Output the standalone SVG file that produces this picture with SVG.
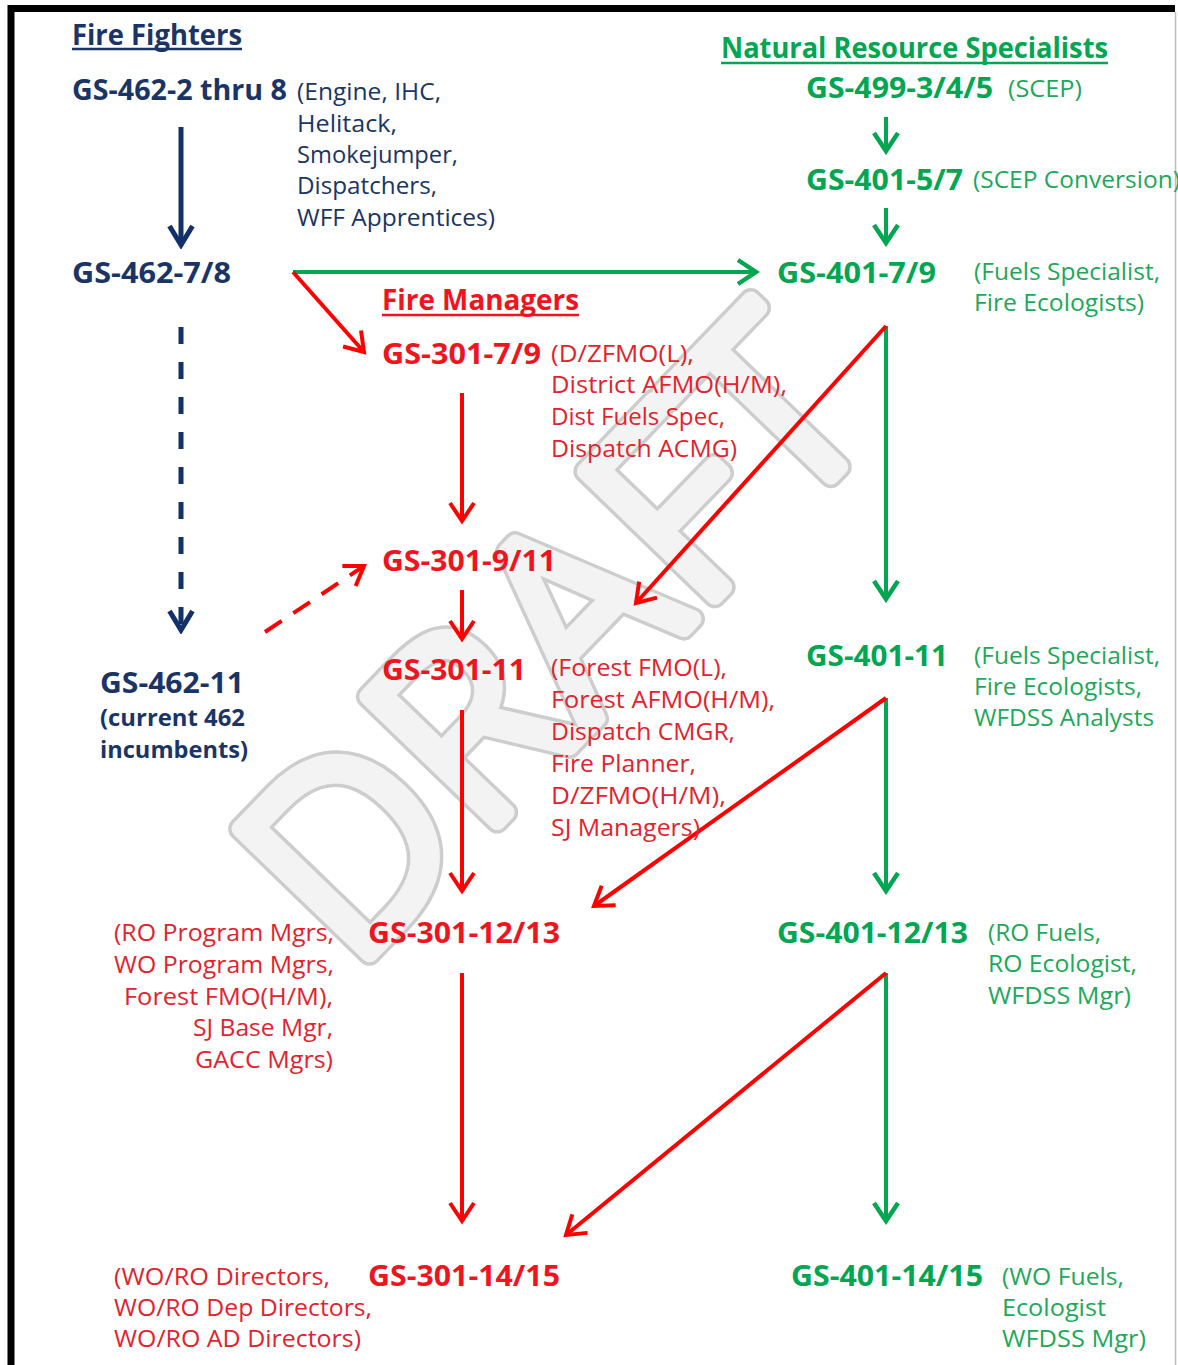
<svg xmlns="http://www.w3.org/2000/svg" width="1178" height="1365" viewBox="0 0 1178 1365">
<style>
text{font-family:"Open Sans","Noto Sans","Liberation Sans",sans-serif}
.b{font-weight:bold;font-size:29px}
.r{font-size:23px}
.navy{fill:#1A3565}
.redb{fill:#F0141E}
.redr{fill:#E2232E}
.grnb{fill:#00A651}
.grnr{fill:#1DA85A}
.wm1{font-size:252px;font-weight:300;letter-spacing:6px;fill:none;stroke:#cdcdcd;stroke-width:24;stroke-linejoin:round}
.wm2{font-size:252px;font-weight:300;letter-spacing:6px;fill:#f3f3f3;stroke:#f3f3f3;stroke-width:17;stroke-linejoin:round}
.ar{stroke:#FF0000;stroke-width:4;fill:none}
.ag{stroke:#00A650;stroke-width:4;fill:none}
.an{stroke:#12306A;stroke-width:5;fill:none}
</style>
<defs>
<marker id="mr" markerUnits="userSpaceOnUse" viewBox="-22 -16 26 32" refX="0" refY="0" markerWidth="26" markerHeight="32" orient="auto">
<path d="M-18,-12 L0,0 L-18,12" fill="none" stroke="#FF0000" stroke-width="4"/>
</marker>
<marker id="mg" markerUnits="userSpaceOnUse" viewBox="-22 -16 26 32" refX="0" refY="0" markerWidth="26" markerHeight="32" orient="auto">
<path d="M-18,-12 L0,0 L-18,12" fill="none" stroke="#00A650" stroke-width="4.5"/>
</marker>
<marker id="mn" markerUnits="userSpaceOnUse" viewBox="-24 -16 28 32" refX="0" refY="0" markerWidth="28" markerHeight="32" orient="auto">
<path d="M-19,-11.5 L0,0 L-19,11.5" fill="none" stroke="#12306A" stroke-width="5"/>
</marker>
</defs>
<rect x="0" y="0" width="1178" height="1365" fill="#ffffff"/>

<g id="watermark">
<text class="wm1" transform="translate(352,972) rotate(-46)">DRAFT</text>
<text class="wm2" transform="translate(352,972) rotate(-46)">DRAFT</text>
</g>

<g id="frame">
<path d="M11,1365 V8.5 H1175" fill="none" stroke="#000" stroke-width="7"/>
<line x1="1175.5" y1="12" x2="1175.5" y2="1365" stroke="#bdbdbd" stroke-width="1.5"/>
</g>

<g id="connectors">
<line class="an" x1="181" y1="127" x2="181" y2="245" marker-end="url(#mn)"/>
<line class="an" x1="181" y1="327" x2="181" y2="630" stroke-dasharray="17 18" marker-end="url(#mn)"/>
<line class="ag" x1="293" y1="272" x2="756" y2="272" marker-end="url(#mg)"/>
<line class="ar" x1="293" y1="272" x2="364" y2="352" marker-end="url(#mr)"/>
<line class="ar" x1="265" y1="632" x2="364" y2="566" stroke-dasharray="20 14" marker-end="url(#mr)"/>
<line class="ar" x1="462" y1="393" x2="462" y2="521" marker-end="url(#mr)"/>
<line class="ar" x1="462" y1="590" x2="462" y2="639" marker-end="url(#mr)"/>
<line class="ar" x1="462" y1="710" x2="462" y2="891" marker-end="url(#mr)"/>
<line class="ar" x1="462" y1="973" x2="462" y2="1221" marker-end="url(#mr)"/>
<line class="ag" x1="886" y1="117" x2="886" y2="151" marker-end="url(#mg)"/>
<line class="ag" x1="886" y1="208" x2="886" y2="243" marker-end="url(#mg)"/>
<line class="ag" x1="886" y1="326" x2="886" y2="599" marker-end="url(#mg)"/>
<line class="ag" x1="886" y1="698" x2="886" y2="891" marker-end="url(#mg)"/>
<line class="ag" x1="886" y1="973" x2="886" y2="1221" marker-end="url(#mg)"/>
<line class="ar" x1="886" y1="326" x2="636" y2="603" marker-end="url(#mr)"/>
<line class="ar" x1="886" y1="698" x2="594" y2="906" marker-end="url(#mr)"/>
<line class="ar" x1="886" y1="973" x2="566" y2="1235" marker-end="url(#mr)"/>
</g>

<g id="title-fire-fighters">
<text class="b navy" x="72" y="45" textLength="170" lengthAdjust="spacingAndGlyphs">Fire Fighters</text>
<line x1="72" y1="49" x2="242" y2="49" stroke="#1A3565" stroke-width="2.5"/>
</g>
<g id="gs462-2-8">
<text class="b navy" x="72" y="100" textLength="215" lengthAdjust="spacingAndGlyphs">GS-462-2 thru 8</text>
<text class="r navy" x="297" y="100" textLength="144" lengthAdjust="spacingAndGlyphs">(Engine, IHC,</text>
<text class="r navy" x="297" y="132" textLength="100" lengthAdjust="spacingAndGlyphs">Helitack,</text>
<text class="r navy" x="297" y="163" textLength="161" lengthAdjust="spacingAndGlyphs">Smokejumper,</text>
<text class="r navy" x="297" y="194" textLength="140" lengthAdjust="spacingAndGlyphs">Dispatchers,</text>
<text class="r navy" x="297" y="226" textLength="198" lengthAdjust="spacingAndGlyphs">WFF Apprentices)</text>
</g>
<g id="gs462-7-8">
<text class="b navy" x="72" y="283" textLength="159" lengthAdjust="spacingAndGlyphs">GS-462-7/8</text>
</g>
<g id="gs462-11">
<text class="b navy" x="100" y="693" textLength="144" lengthAdjust="spacingAndGlyphs">GS-462-11</text>
<text class="navy" x="100" y="726" font-size="23" font-weight="bold" textLength="145" lengthAdjust="spacingAndGlyphs">(current 462</text>
<text class="navy" x="100" y="758" font-size="23" font-weight="bold" textLength="148" lengthAdjust="spacingAndGlyphs">incumbents)</text>
</g>

<g id="title-fire-managers">
<text class="b redb" x="382" y="310" textLength="197" lengthAdjust="spacingAndGlyphs">Fire Managers</text>
<line x1="382" y1="315" x2="579" y2="315" stroke="#F0141E" stroke-width="2.5"/>
</g>
<g id="gs301-7-9">
<text class="b redb" x="382" y="364" textLength="159" lengthAdjust="spacingAndGlyphs">GS-301-7/9</text>
<text class="r redr" x="551" y="362" textLength="143" lengthAdjust="spacingAndGlyphs">(D/ZFMO(L),</text>
<text class="r redr" x="551" y="393" textLength="236" lengthAdjust="spacingAndGlyphs">District AFMO(H/M),</text>
<text class="r redr" x="551" y="425" textLength="174" lengthAdjust="spacingAndGlyphs">Dist Fuels Spec,</text>
<text class="r redr" x="551" y="457" textLength="186" lengthAdjust="spacingAndGlyphs">Dispatch ACMG)</text>
</g>
<g id="gs301-9-11">
<text class="b redb" x="382" y="571" textLength="174" lengthAdjust="spacingAndGlyphs">GS-301-9/11</text>
</g>
<g id="gs301-11">
<text class="b redb" x="382" y="680" textLength="144" lengthAdjust="spacingAndGlyphs">GS-301-11</text>
<text class="r redr" x="551" y="676" textLength="176" lengthAdjust="spacingAndGlyphs">(Forest FMO(L),</text>
<text class="r redr" x="551" y="708" textLength="224" lengthAdjust="spacingAndGlyphs">Forest AFMO(H/M),</text>
<text class="r redr" x="551" y="740" textLength="184" lengthAdjust="spacingAndGlyphs">Dispatch CMGR,</text>
<text class="r redr" x="551" y="772" textLength="145" lengthAdjust="spacingAndGlyphs">Fire Planner,</text>
<text class="r redr" x="551" y="804" textLength="175" lengthAdjust="spacingAndGlyphs">D/ZFMO(H/M),</text>
<text class="r redr" x="551" y="836" textLength="149" lengthAdjust="spacingAndGlyphs">SJ Managers)</text>
</g>
<g id="gs301-12-13">
<text class="b redb" x="368" y="943" textLength="192" lengthAdjust="spacingAndGlyphs">GS-301-12/13</text>
<text class="r redr" x="114" y="941" textLength="220" lengthAdjust="spacingAndGlyphs">(RO Program Mgrs,</text>
<text class="r redr" x="114" y="973" textLength="220" lengthAdjust="spacingAndGlyphs">WO Program Mgrs,</text>
<text class="r redr" x="124" y="1005" textLength="209" lengthAdjust="spacingAndGlyphs">Forest FMO(H/M),</text>
<text class="r redr" x="193" y="1036" textLength="140" lengthAdjust="spacingAndGlyphs">SJ Base Mgr,</text>
<text class="r redr" x="195" y="1068" textLength="138" lengthAdjust="spacingAndGlyphs">GACC Mgrs)</text>
</g>
<g id="gs301-14-15">
<text class="b redb" x="368" y="1286" textLength="192" lengthAdjust="spacingAndGlyphs">GS-301-14/15</text>
<text class="r redr" x="114" y="1285" textLength="216" lengthAdjust="spacingAndGlyphs">(WO/RO Directors,</text>
<text class="r redr" x="114" y="1316" textLength="258" lengthAdjust="spacingAndGlyphs">WO/RO Dep Directors,</text>
<text class="r redr" x="114" y="1347" textLength="247" lengthAdjust="spacingAndGlyphs">WO/RO AD Directors)</text>
</g>

<g id="title-nrs">
<text class="b grnb" x="721" y="58" textLength="387" lengthAdjust="spacingAndGlyphs">Natural Resource Specialists</text>
<line x1="721" y1="63" x2="1108" y2="63" stroke="#00A651" stroke-width="2.5"/>
</g>
<g id="gs499-3-4-5">
<text class="b grnb" x="806" y="98" textLength="187" lengthAdjust="spacingAndGlyphs">GS-499-3/4/5</text>
<text class="r grnr" x="1008" y="97" textLength="74" lengthAdjust="spacingAndGlyphs">(SCEP)</text>
</g>
<g id="gs401-5-7">
<text class="b grnb" x="806" y="190" textLength="157" lengthAdjust="spacingAndGlyphs">GS-401-5/7</text>
<text class="r grnr" x="973" y="188" textLength="207" lengthAdjust="spacingAndGlyphs">(SCEP Conversion)</text>
</g>
<g id="gs401-7-9">
<text class="b grnb" x="777" y="283" textLength="159" lengthAdjust="spacingAndGlyphs">GS-401-7/9</text>
<text class="r grnr" x="974" y="280" textLength="186" lengthAdjust="spacingAndGlyphs">(Fuels Specialist,</text>
<text class="r grnr" x="974" y="311" textLength="170" lengthAdjust="spacingAndGlyphs">Fire Ecologists)</text>
</g>
<g id="gs401-11">
<text class="b grnb" x="806" y="666" textLength="142" lengthAdjust="spacingAndGlyphs">GS-401-11</text>
<text class="r grnr" x="974" y="664" textLength="186" lengthAdjust="spacingAndGlyphs">(Fuels Specialist,</text>
<text class="r grnr" x="974" y="695" textLength="168" lengthAdjust="spacingAndGlyphs">Fire Ecologists,</text>
<text class="r grnr" x="974" y="726" textLength="180" lengthAdjust="spacingAndGlyphs">WFDSS Analysts</text>
</g>
<g id="gs401-12-13">
<text class="b grnb" x="777" y="943" textLength="191" lengthAdjust="spacingAndGlyphs">GS-401-12/13</text>
<text class="r grnr" x="988" y="941" textLength="113" lengthAdjust="spacingAndGlyphs">(RO Fuels,</text>
<text class="r grnr" x="988" y="972" textLength="149" lengthAdjust="spacingAndGlyphs">RO Ecologist,</text>
<text class="r grnr" x="988" y="1004" textLength="143" lengthAdjust="spacingAndGlyphs">WFDSS Mgr)</text>
</g>
<g id="gs401-14-15">
<text class="b grnb" x="791" y="1286" textLength="192" lengthAdjust="spacingAndGlyphs">GS-401-14/15</text>
<text class="r grnr" x="1002" y="1285" textLength="122" lengthAdjust="spacingAndGlyphs">(WO Fuels,</text>
<text class="r grnr" x="1002" y="1316" textLength="104" lengthAdjust="spacingAndGlyphs">Ecologist</text>
<text class="r grnr" x="1002" y="1347" textLength="144" lengthAdjust="spacingAndGlyphs">WFDSS Mgr)</text>
</g>
</svg>
